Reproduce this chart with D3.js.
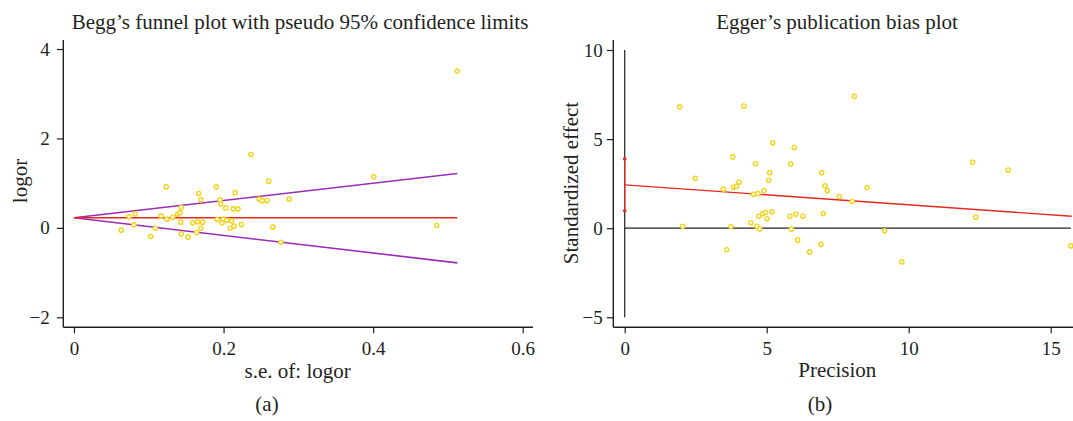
<!DOCTYPE html>
<html>
<head>
<meta charset="utf-8">
<script src="https://cdn.jsdelivr.net/npm/d3@7"></script>
<style>
  body { margin: 0; background: #fff; }
  svg text { font-family: "Liberation Serif", "Times New Roman", serif; fill: #231f20; }
</style>
</head>
<body>
<svg id="chart" width="1073" height="421"></svg>
<script>
// Begg funnel: standard error and log odds ratio per study
var beggSe = [0.0632, 0.0735, 0.0816, 0.0802, 0.1025, 0.1087, 0.1163, 0.1234, 0.1243, 0.1320,
  0.1386, 0.1413, 0.1434, 0.1426, 0.1434, 0.1524, 0.1587, 0.1654, 0.1721, 0.1640,
  0.1694, 0.1667, 0.1698, 0.1902, 0.1952, 0.1961, 0.2028, 0.1916, 0.1996, 0.1979,
  0.2045, 0.2108, 0.2090, 0.2139, 0.2126, 0.2193, 0.2156, 0.2237, 0.2366, 0.2477,
  0.2517, 0.2580, 0.2603, 0.2660, 0.2767, 0.2878, 0.401, 0.485, 0.5124];
var beggLogor = [-0.051, 0.246, 0.313, 0.067, -0.192, -0.007, 0.268, 0.917, 0.195, 0.239,
  0.306, 0.336, 0.456, 0.128, -0.134, -0.208, 0.112, 0.134, 0.128, -0.103,
  -0.007, 0.770, 0.626, 0.917, 0.626, 0.537, 0.447, 0.188, 0.195, 0.112,
  0.172, 0.157, -0.007, 0.038, 0.425, 0.425, 0.783, 0.076, 1.642, 0.642,
  0.604, 0.613, 1.045, 0.016, -0.320, 0.642, 1.141, 0.054, 3.506];

// funnel lines (pooled estimate and pseudo 95% limits)
var funnelSe = [0, 0.5125];
var pooledLine = [0.225, 0.225];
var upperLimit = [0.225, 1.217];
var lowerLimit = [0.225, -0.783];

// Egger: precision and standardized effect
var eggerPrec = [1.937, 2.042, 2.486, 3.472, 3.59, 3.743, 3.803, 3.838, 3.94, 4.025,
  4.2, 4.437, 4.53, 4.61, 4.65, 4.69, 4.72, 4.75, 4.86, 4.905,
  4.96, 5.01, 5.07, 5.105, 5.187, 5.21, 5.82, 5.845, 5.867, 5.97,
  6.03, 6.09, 6.28, 6.51, 6.91, 6.94, 6.99, 7.05, 7.135, 7.56,
  8.01, 8.085, 8.53, 9.15, 9.76, 12.25, 12.36, 13.5, 15.71];
var eggerEffect = [6.81, 0.11, 2.80, 2.19, -1.21, 0.095, 4.00, 2.30, 2.36, 2.58,
  6.86, 0.31, 1.90, 3.62, 0.11, 1.94, 0.67, -0.05, 0.81, 2.11,
  0.88, 0.53, 2.69, 3.11, 0.92, 4.79, 0.67, 3.61, -0.05, 4.53,
  0.79, -0.67, 0.67, -1.33, -0.91, 3.11, 0.82, 2.38, 2.11, 1.78,
  1.50, 7.40, 2.28, -0.15, -1.89, 3.70, 0.62, 3.27, -0.99];

var eggerFitX = [0, 15.74];
var eggerFitY = [2.43, 0.67];
var eggerCi = [0.976, 3.89];

var leftXTicks = [0, 0.2, 0.4, 0.6];
var leftYTicks = [-2, 0, 2, 4];
var rightXTicks = [0, 5, 10, 15];
var rightYTicks = [-5, 0, 5, 10];

var svg = d3.select("#chart");
var dotColor = "#f5d31a";
var titleSize = "21px";

function intFmt(d) { return d < 0 ? "\u2212" + Math.abs(d) : String(d); }
function seFmt(d) { return d == 0 ? "0" : d3.format(".1f")(d); }

/* ---------- panel (a) ---------- */
var xa = d3.scaleLinear().domain([0, 0.6]).range([74, 522.7]);
var ya = d3.scaleLinear().domain([-2, 4]).range([317.3, 49]);
var ga = svg.append("g");

drawAxes(ga, xa, ya, leftXTicks, leftYTicks, 63.3, 533, 40, 327.3, 7, seFmt, intFmt);

var line = d3.line();

ga.append("path")
  .attr("d", line(funnelSe.map(function(s, i) { return [xa(s), ya(upperLimit[i])]; })))
  .attr("fill", "none").attr("stroke", "#9a2db4").attr("stroke-width", 1.6);
ga.append("path")
  .attr("d", line(funnelSe.map(function(s, i) { return [xa(s), ya(lowerLimit[i])]; })))
  .attr("fill", "none").attr("stroke", "#9a2db4").attr("stroke-width", 1.6);
ga.append("path")
  .attr("d", line(funnelSe.map(function(s, i) { return [xa(s), ya(pooledLine[i])]; })))
  .attr("fill", "none").attr("stroke", "#e4281e").attr("stroke-width", 1.4);

ga.selectAll("circle.pt")
  .data(beggSe)
  .enter().append("circle")
  .attr("class", "pt")
  .attr("cx", function(d) { return xa(d); })
  .attr("cy", function(d, i) { return ya(beggLogor[i]); })
  .attr("r", 2.1)
  .style("fill", "#fff")
  .style("stroke", dotColor)
  .style("stroke-width", 1.4);

ga.append("text").attr("x", 300).attr("y", 29).attr("text-anchor", "middle")
  .style("font-size", titleSize).text("Begg\u2019s funnel plot with pseudo 95% confidence limits");
ga.append("text").attr("x", 297.7).attr("y", 378).attr("text-anchor", "middle")
  .style("font-size", titleSize).text("s.e. of: logor");
ga.append("text").attr("transform", "translate(27,181) rotate(-90)").attr("text-anchor", "middle")
  .style("font-size", titleSize).text("logor");
ga.append("text").attr("x", 267).attr("y", 411).attr("text-anchor", "middle")
  .style("font-size", titleSize).text("(a)");

/* ---------- panel (b) ---------- */
var xb = d3.scaleLinear().domain([0, 15]).range([624.7, 1050.7]);
var yb = d3.scaleLinear().domain([-5, 10]).range([317.3, 50]);
var gb = svg.append("g");

drawAxes(gb, xb, yb, rightXTicks, rightYTicks, 613.3, 1073, 40, 327.3, 4, intFmt, intFmt);

// reference lines at x = 0 and y = 0
gb.append("line")
  .attr("x1", xb(0)).attr("x2", xb(0)).attr("y1", yb(10)).attr("y2", yb(-5))
  .attr("stroke", "#222").attr("stroke-width", 1.2);
gb.append("line")
  .attr("x1", xb(0)).attr("x2", xb(d3.max(eggerPrec))).attr("y1", yb(0)).attr("y2", yb(0))
  .attr("stroke", "#222").attr("stroke-width", 1.2);

// regression line and intercept CI
gb.append("path")
  .attr("d", line(eggerFitX.map(function(p, i) { return [xb(p), yb(eggerFitY[i])]; })))
  .attr("fill", "none").attr("stroke", "#e4281e").attr("stroke-width", 1.4);
gb.append("line")
  .attr("x1", xb(0)).attr("x2", xb(0)).attr("y1", yb(eggerCi[0])).attr("y2", yb(eggerCi[1]))
  .attr("stroke", "#e4281e").attr("stroke-width", 1.4);
gb.selectAll("circle.ci")
  .data(eggerCi)
  .enter().append("circle")
  .attr("class", "ci")
  .attr("cx", xb(0))
  .attr("cy", function(d) { return yb(d); })
  .attr("r", 1.8)
  .style("fill", "#e4281e");

gb.selectAll("circle.pt")
  .data(eggerPrec)
  .enter().append("circle")
  .attr("class", "pt")
  .attr("cx", function(d) { return xb(d); })
  .attr("cy", function(d, i) { return yb(eggerEffect[i]); })
  .attr("r", 2.1)
  .style("fill", "#fff")
  .style("stroke", dotColor)
  .style("stroke-width", 1.4);

gb.append("text").attr("x", 837).attr("y", 29).attr("text-anchor", "middle")
  .style("font-size", titleSize).text("Egger\u2019s publication bias plot");
gb.append("text").attr("x", 837.3).attr("y", 377).attr("text-anchor", "middle")
  .style("font-size", titleSize).text("Precision");
gb.append("text").attr("transform", "translate(578,183) rotate(-90)").attr("text-anchor", "middle")
  .style("font-size", titleSize).text("Standardized effect");
gb.append("text").attr("x", 820).attr("y", 411).attr("text-anchor", "middle")
  .style("font-size", titleSize).text("(b)");

function drawAxes(g, x, y, xt, yt, left, right, top, bottom, ypad, xfmt, yfmt) {
  var ax = g.append("g").attr("transform", "translate(0," + bottom + ")")
    .call(d3.axisBottom(x).tickValues(xt).tickSize(6).tickPadding(8).tickFormat(xfmt));
  var ay = g.append("g").attr("transform", "translate(" + left + ",0)")
    .call(d3.axisLeft(y).tickValues(yt).tickSize(6.5).tickPadding(ypad).tickFormat(yfmt));
  [ax, ay].forEach(function(a) {
    a.select(".domain").remove();
    a.selectAll("line").attr("stroke", "#231f20").attr("stroke-width", 1.2);
    a.selectAll("text").style("font-size", "19px")
      .style("font-family", "'Liberation Serif', serif").attr("fill", "#231f20");
  });
  // axis spines
  g.append("line").attr("x1", left).attr("x2", right).attr("y1", bottom).attr("y2", bottom)
    .attr("stroke", "#231f20").attr("stroke-width", 1.4);
  g.append("line").attr("x1", left).attr("x2", left).attr("y1", top).attr("y2", bottom)
    .attr("stroke", "#231f20").attr("stroke-width", 1.4);
}
</script>
</body>
</html>
